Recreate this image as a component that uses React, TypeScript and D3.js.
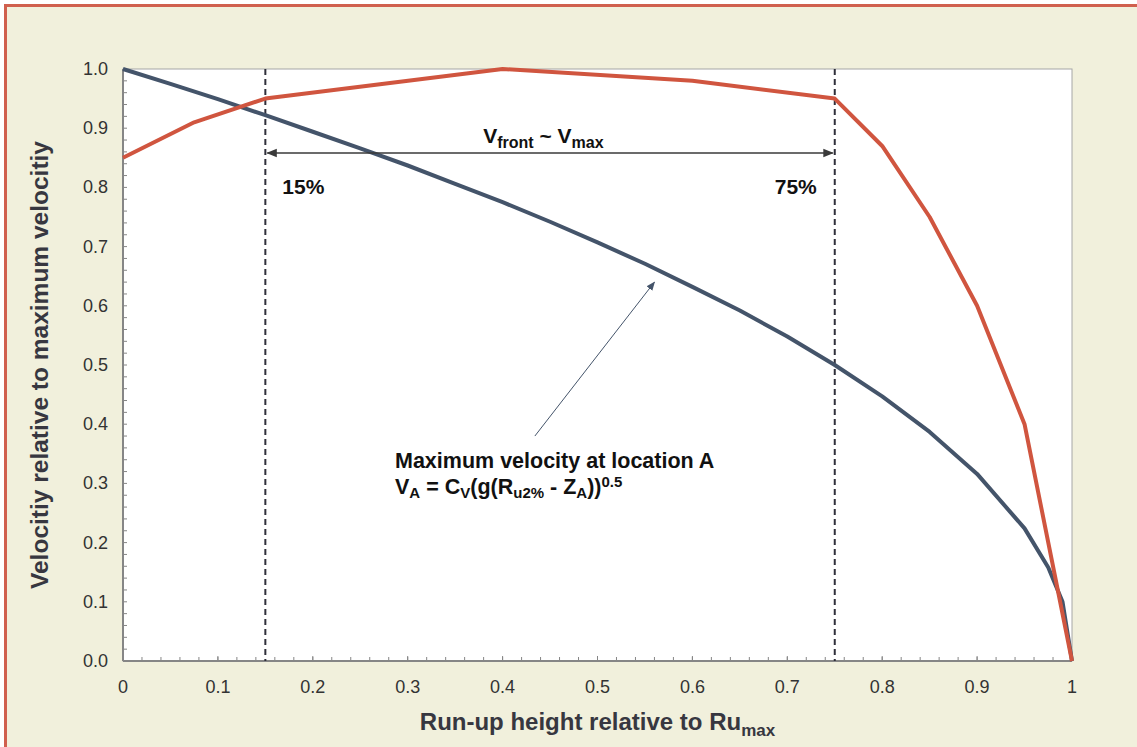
import React from 'react';
import * as d3 from 'd3';

// red curve: front velocity
const frontX = [0, 0.075, 0.15, 0.4, 0.6, 0.75, 0.8, 0.85, 0.9, 0.95, 1];
const frontY = [0.85, 0.91, 0.95, 1.0, 0.98, 0.95, 0.87, 0.75, 0.6, 0.4, 0];

// dark curve: maximum velocity at location A
const maxX = [0, 0.05, 0.1, 0.15, 0.2, 0.25, 0.3, 0.35, 0.4, 0.45, 0.5, 0.55, 0.6, 0.65, 0.7, 0.75, 0.8, 0.85, 0.9, 0.95, 0.975, 0.99, 1];
const maxY = [1.0, 0.975, 0.949, 0.922, 0.894, 0.866, 0.837, 0.806, 0.775, 0.742, 0.707, 0.671, 0.632, 0.592, 0.548, 0.5, 0.447, 0.387, 0.316, 0.224, 0.158, 0.1, 0];

const xTicks = [0, 0.1, 0.2, 0.3, 0.4, 0.5, 0.6, 0.7, 0.8, 0.9, 1];
const yTicks = [0, 0.1, 0.2, 0.3, 0.4, 0.5, 0.6, 0.7, 0.8, 0.9, 1.0];
const markers = [0.15, 0.75];

const W = 1137;
const H = 747;
const margin = { left: 123, right: 65, top: 69, bottom: 86 };
const font = 'Arial, "Liberation Sans", sans-serif';

export default function App() {
  const x = d3.scaleLinear().domain([0, 1]).range([margin.left, W - margin.right]);
  const y = d3.scaleLinear().domain([0, 1]).range([H - margin.bottom, margin.top]);

  const line = d3.line<[number, number]>().x((d) => x(d[0])).y((d) => y(d[1]));
  const front = frontX.map((v, i) => [v, frontY[i]] as [number, number]);
  const vmax = maxX.map((v, i) => [v, maxY[i]] as [number, number]);

  const minor = d3.range(0, 1.0001, 0.02);
  const x0 = x(0), x1 = x(1), y0 = y(0), y1 = y(1);
  const arrowY = 153;

  return (
    <svg width={W} height={H} style={{ position: 'absolute', left: 0, top: 0 }}>
      <defs>
        <marker id="ah" viewBox="0 0 10 10" refX="9" refY="5" markerWidth="7" markerHeight="7" orient="auto-start-reverse">
          <path d="M0,1 L10,5 L0,9 Z" fill="#3a3a3a" />
        </marker>
        <marker id="ah2" viewBox="0 0 10 10" refX="9" refY="5" markerWidth="9" markerHeight="9" orient="auto">
          <path d="M0,1 L10,5 L0,9 Z" fill="#44546a" />
        </marker>
      </defs>
      <rect x={0} y={0} width={W} height={H} fill="#fff" />
      <rect x={5.5} y={5.5} width={W + 20} height={H + 20} fill="#f1f0dc" stroke="#d0604e" strokeWidth={3} />

      <rect x={x0} y={y1} width={x1 - x0} height={y0 - y1} fill="#fff" stroke="#a6a6a6" strokeWidth={1} />

      {/* minor ticks */}
      {minor.map((v) => (
        <line key={'mx' + v} x1={x(v)} x2={x(v)} y1={y0} y2={y0 - 4} stroke="#868686" />
      ))}
      {minor.map((v) => (
        <line key={'my' + v} x1={x0} x2={x0 + 4} y1={y(v)} y2={y(v)} stroke="#868686" />
      ))}
      {xTicks.map((v) => (
        <line key={'Mx' + v} x1={x(v)} x2={x(v)} y1={y0} y2={y0 - 5} stroke="#868686" />
      ))}
      <line x1={x0} x2={x1} y1={y0} y2={y0} stroke="#868686" strokeWidth={2} />
      <line x1={x0} x2={x0} y1={y0} y2={y1} stroke="#868686" strokeWidth={2} />

      {yTicks.map((v) => (
        <text key={'yl' + v} x={x0 - 15} y={y(v) + 6} textAnchor="end" fontFamily={font} fontSize={18} fill="#333">
          {v.toFixed(1)}
        </text>
      ))}
      {xTicks.map((v) => (
        <text key={'xl' + v} x={x(v)} y={y0 + 32} textAnchor="middle" fontFamily={font} fontSize={18} fill="#333">
          {String(v)}
        </text>
      ))}

      {/* vertical markers */}
      {markers.map((m) => (
        <line key={'v' + m} x1={x(m)} x2={x(m)} y1={y1} y2={y0} stroke="#2f2f3a" strokeWidth={2} strokeDasharray="6,4" />
      ))}

      <path d={line(vmax) || ''} fill="none" stroke="#44546a" strokeWidth={4} strokeLinejoin="round" />
      <path d={line(front) || ''} fill="none" stroke="#d0553f" strokeWidth={4} strokeLinejoin="round" />

      {/* range arrow */}
      <line x1={x(0.15) + 2} x2={x(0.75) - 2} y1={arrowY} y2={arrowY} stroke="#3a3a3a" strokeWidth={1.5}
        markerStart="url(#ah)" markerEnd="url(#ah)" />
      <text x={x(0.443)} y={arrowY - 10} textAnchor="middle" fontFamily={font} fontSize={21} fontWeight="bold" fill="#111">
        V<tspan fontSize={16} dy={5}>front</tspan>
        <tspan dy={-5}> ~ V</tspan>
        <tspan fontSize={16} dy={5}>max</tspan>
      </text>
      <text x={x(0.15) + 17} y={194} fontFamily={font} fontSize={21} fontWeight="bold" fill="#111">15%</text>
      <text x={x(0.75) - 18} y={194} textAnchor="end" fontFamily={font} fontSize={21} fontWeight="bold" fill="#111">75%</text>

      {/* annotation */}
      <line x1={x(0.434)} y1={y(0.38)} x2={x(0.56)} y2={y(0.64)} stroke="#44546a" strokeWidth={1}
        markerEnd="url(#ah2)" />
      <text x={395} y={468} fontFamily={font} fontSize={21.5} fontWeight="bold" fill="#111">
        Maximum velocity at location A
      </text>
      <text x={395} y={494} fontFamily={font} fontSize={21.5} fontWeight="bold" fill="#111">
        V<tspan fontSize={15} dy={4}>A</tspan>
        <tspan dy={-4}> = C</tspan>
        <tspan fontSize={15} dy={4}>V</tspan>
        <tspan dy={-4}>(g(R</tspan>
        <tspan fontSize={15} dy={4}>u2%</tspan>
        <tspan dy={-4}> - Z</tspan>
        <tspan fontSize={15} dy={4}>A</tspan>
        <tspan dy={-4}>))</tspan>
        <tspan fontSize={15} dy={-7}>0.5</tspan>
      </text>

      {/* axis titles */}
      <text x={x(0.5)} y={730} textAnchor="middle" fontFamily={font} fontSize={24} fontWeight="bold" fill="#373740">
        Run-up height relative to Ru<tspan fontSize={17} dy={6}>max</tspan>
      </text>
      <text transform={`translate(48,${(y0 + y1) / 2}) rotate(-90)`} textAnchor="middle" fontFamily={font} fontSize={24.5}
        fontWeight="bold" fill="#373740">
        Velocitiy relative to maximum velocitiy
      </text>
    </svg>
  );
}
